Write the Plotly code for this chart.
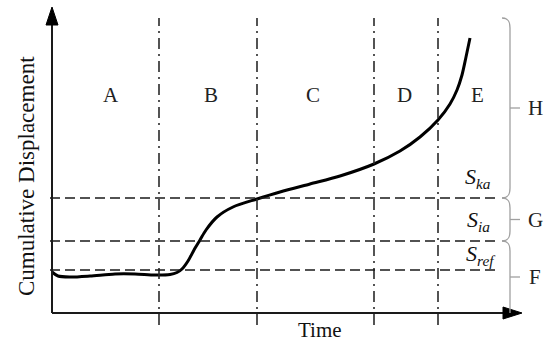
import plotly.graph_objects as go

# ---- data (time units / displacement units) ----
curve_t = [0, 0.6, 1.8, 3.8, 6.3, 8.3, 10.3, 11.8, 12.5, 13.0, 13.6, 14.2, 14.8, 15.4,
           16.5, 18.1, 20.5, 22.8, 25.8, 28.8, 32.2, 34.8, 36.8, 38.6, 39.8, 40.5,
           41.0, 41.4, 41.8]
curve_s = [4.1, 3.7, 3.6, 3.7, 3.9, 3.9, 3.8, 3.85, 4.05, 4.4, 5.2, 6.3, 7.3, 8.3,
           9.6, 10.6, 11.4, 12.1, 12.9, 13.7, 14.9, 16.2, 17.6, 19.3, 20.9, 22.3,
           23.8, 25.6, 27.5]
stage_bounds = [10.7, 20.5, 32.2, 38.6]
stage_labels = ["A", "B", "C", "D", "E"]
stage_label_t = [5.9, 15.9, 26.1, 35.2, 42.5]
thresholds = {"ka": 11.5, "ia": 7.2, "ref": 4.3}
zone_labels = ["H", "G", "F"]

# ---- layout constants ----
XR = [-5.2, 49.8]
YR = [-3.4, 31.3]
Y_TOP = 29.5
AX_COL = "#1a1a1a"
SERIF = "Liberation Serif"

fig = go.Figure()
fig.add_trace(go.Scatter(x=curve_t, y=curve_s, mode="lines",
                         line=dict(color="black", width=3, shape="spline", smoothing=0.8),
                         hoverinfo="skip", showlegend=False))

shapes = []
# stage boundaries (dash-dot)
for b in stage_bounds:
    shapes.append(dict(type="line", x0=b, x1=b, y0=-1.2, y1=Y_TOP, xref="x", yref="y",
                       line=dict(color="#2a2a2a", width=1.6, dash="11px,5px,2px,5px")))
# threshold lines (dashed)
for k, v in thresholds.items():
    shapes.append(dict(type="line", x0=-0.2, x1=44.7, y0=v, y1=v, xref="x", yref="y",
                       line=dict(color="#1a1a1a", width=1.6, dash="10px,5px")))
# axes
shapes.append(dict(type="line", x0=0, x1=0, y0=0, y1=28.9, xref="x", yref="y",
                   line=dict(color=AX_COL, width=2)))
shapes.append(dict(type="line", x0=0, x1=45.2, y0=0, y1=0, xref="x", yref="y",
                   line=dict(color=AX_COL, width=2)))
shapes.append(dict(type="path", path="M -0.6,28.8 L 0.6,28.8 L 0,30.6 Z", xref="x", yref="y",
                   fillcolor="black", line=dict(color="black", width=1)))
shapes.append(dict(type="path", path="M 45.1,0.6 L 45.1,-0.6 L 47.0,0 Z", xref="x", yref="y",
                   fillcolor="black", line=dict(color="black", width=1)))

# braces
XL, XE, XT = 45.8, 45.0, 46.8
def brace(top, bot, curl_top=True, curl_bot=True):
    p = ""
    if curl_top:
        p += f"M {XE},{top} C {XE+0.6},{top} {XL},{top-0.3} {XL},{top-1.0} "
    else:
        p += f"M {XL},{top} "
    if curl_bot:
        p += f"L {XL},{bot+1.0} C {XL},{bot+0.3} {XE+0.6},{bot} {XE},{bot}"
    else:
        p += f"L {XL},{bot}"
    return p

zones = [(Y_TOP, thresholds["ka"], True, True),
         (thresholds["ka"], thresholds["ia"], True, True),
         (thresholds["ia"], 0, True, False)]
for (top, bot, ct, cb), lab in zip(zones, zone_labels):
    shapes.append(dict(type="path", path=brace(top, bot, ct, cb), xref="x", yref="y",
                       line=dict(color="#a0a0a0", width=1.3)))
    mid = (top + bot) / 2
    shapes.append(dict(type="line", x0=XL, x1=XT, y0=mid, y1=mid, xref="x", yref="y",
                       line=dict(color="#a0a0a0", width=1.3)))

annotations = []
for lab, t in zip(stage_labels, stage_label_t):
    annotations.append(dict(x=t, y=21.8, text=lab, showarrow=False, xref="x", yref="y",
                            font=dict(family=SERIF, size=21, color="#222")))
for (top, bot, ct, cb), lab in zip(zones, zone_labels):
    annotations.append(dict(x=48.3, y=(top + bot) / 2, text=lab, showarrow=False,
                            xref="x", yref="y",
                            font=dict(family=SERIF, size=21, color="#222")))
s_pos = {"ka": (42.6, 13.5), "ia": (42.6, 9.2), "ref": (42.9, 5.8)}
for k, (tx, ty) in s_pos.items():
    annotations.append(dict(x=tx, y=ty, text=f"<i>S</i><sub><i>{k}</i></sub>", showarrow=False,
                            xref="x", yref="y",
                            font=dict(family=SERIF, size=22, color="#111")))
annotations.append(dict(x=26.8, y=-1.7, text="Time", showarrow=False, xref="x", yref="y",
                        font=dict(family=SERIF, size=21, color="#111")))
annotations.append(dict(x=-2.6, y=13.7, text="Cumulative Displacement", textangle=-90,
                        showarrow=False, xref="x", yref="y",
                        font=dict(family=SERIF, size=23, color="#111")))

fig.update_layout(
    width=550, height=347, margin=dict(l=0, r=0, t=0, b=0),
    paper_bgcolor="white", plot_bgcolor="white",
    xaxis=dict(range=XR, visible=False, fixedrange=True),
    yaxis=dict(range=YR, visible=False, fixedrange=True),
    shapes=shapes, annotations=annotations, showlegend=False,
)
fig.write_html("out.html", config={"displayModeBar": False},
               post_script="document.body.style.margin='0';document.body.style.overflow='hidden';")
